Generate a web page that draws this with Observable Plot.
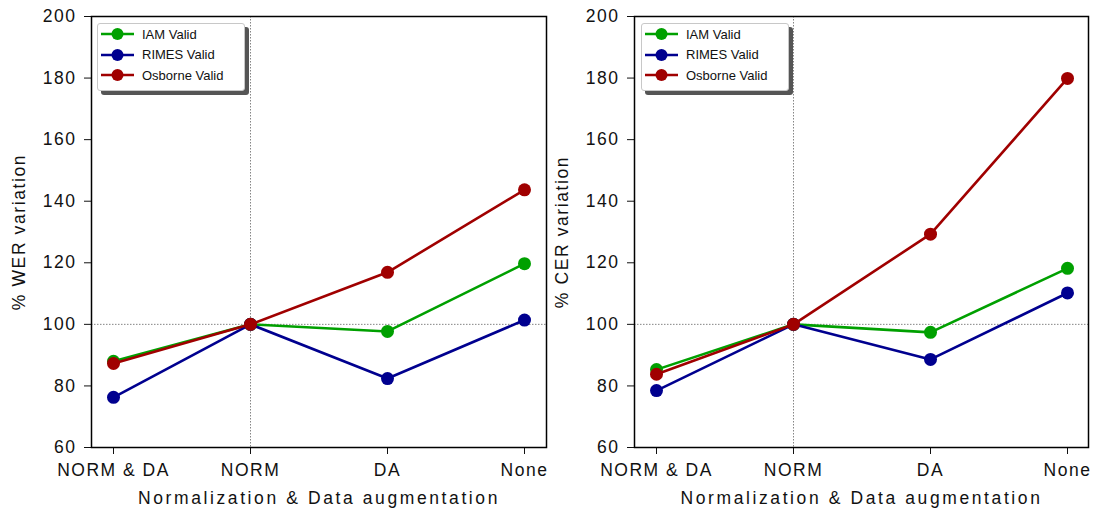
<!DOCTYPE html>
<html>
<head>
<meta charset="utf-8">
<script src="https://cdn.jsdelivr.net/npm/d3@7"></script>
<script src="https://cdn.jsdelivr.net/npm/@observablehq/plot@0.6"></script>
<style>
  html, body { margin: 0; padding: 0; background: #fff; }
  #wrap { position: relative; width: 1094px; height: 509px; display: flex; }
  .legend { position: absolute; width: 146px; height: 66px; background: #fff;
    border: 1px solid #c8c8c8; border-radius: 3px; box-shadow: 4px 4px 0 #555;
    font-family: "Liberation Sans", Arial, sans-serif; font-size: 13px; color: #111; }
  .legend .row { position: absolute; left: 0; height: 20px; display: flex; align-items: center; }
  .legend svg { margin-left: 3px; }
  .legend span { margin-left: 8px; }
  svg [aria-label^="y-axis tick label"] text, svg [aria-label^="x-axis tick label"] text { letter-spacing: 1.5px; }
</style>
</head>
<body>
<div id="wrap"></div>
<script>
const categories = ["NORM & DA", "NORM", "DA", "None"];
const seriesNames = ["IAM Valid", "RIMES Valid", "Osborne Valid"];
const seriesColors = ["#00a000", "#00008f", "#a00000"];
const yTicks = [60, 80, 100, 120, 140, 160, 180, 200];
const xTitle = "Normalization & Data augmentation";

// % WER variation
const werIAM = [88.0, 100, 97.7, 119.7];
const werRIMES = [76.3, 100, 82.4, 101.4];
const werOsborne = [87.3, 100, 116.9, 143.7];

// % CER variation
const cerIAM = [85.3, 100, 97.4, 118.2];
const cerRIMES = [78.5, 100, 88.6, 110.2];
const cerOsborne = [83.8, 100, 129.3, 179.9];

function toRows(arrays) {
  const rows = [];
  arrays.forEach((vals, si) => vals.forEach((v, i) =>
    rows.push({series: seriesNames[si], cat: categories[i], value: v})));
  return rows;
}

function panel(arrays, yLabel, width, mL, mR) {
  const rows = toRows(arrays);
  const marks = [
    Plot.ruleY([100], {stroke: "#666", strokeWidth: 0.8, strokeDasharray: "1.5,1.5"}),
    Plot.ruleX(["NORM"], {stroke: "#666", strokeWidth: 0.8, strokeDasharray: "1.5,1.5"}),
    Plot.axisY({ticks: yTicks, tickSize: 7, tickPadding: 8, label: null, fontSize: 17.5}),
    Plot.axisX({tickSize: 7, tickPadding: 9, label: null, fontSize: 17.5}),
    Plot.text([yLabel], {frameAnchor: "left", textAnchor: "middle", lineAnchor: "middle", dx: -72, rotate: -90, fontSize: 17.5, fill: "#111"}),
    Plot.text([xTitle], {frameAnchor: "bottom", textAnchor: "middle", lineAnchor: "middle", dy: 51, fontSize: 17.5, fill: "#111"})
  ];
  seriesNames.forEach(s => {
    const d = rows.filter(r => r.series === s);
    marks.push(Plot.line(d, {x: "cat", y: "value", stroke: "series", strokeWidth: 2.6}));
    marks.push(Plot.dot(d, {x: "cat", y: "value", fill: "series", r: 6.5, stroke: "none"}));
  });
  marks.push(Plot.frame({stroke: "#000", strokeWidth: 1.5}));
  const svg = Plot.plot({
    width, height: 509,
    marginLeft: mL, marginRight: mR, marginTop: 16, marginBottom: 62,
    style: {fontFamily: "Liberation Sans, Arial, sans-serif", fontSize: "17.5px", color: "#111", background: "#fff"},
    x: {type: "point", domain: categories, padding: 0.15},
    y: {domain: [60, 200]},
    color: {domain: seriesNames, range: seriesColors},
    marks
  });
  svg.querySelectorAll("text").forEach(t => {
    if (t.textContent === xTitle) t.style.letterSpacing = "2.6px";
    else if (t.textContent === yLabel) t.style.letterSpacing = "1.6px";
  });
  return svg;
}

const wrap = document.getElementById("wrap");
wrap.appendChild(panel([werIAM, werRIMES, werOsborne], "% WER variation", 548, 91, 2));
wrap.appendChild(panel([cerIAM, cerRIMES, cerOsborne], "% CER variation", 546, 86, 6));

function legend(left, top) {
  const div = document.createElement("div");
  div.className = "legend";
  div.style.left = left + "px";
  div.style.top = top + "px";
  seriesNames.forEach((name, i) => {
    const row = document.createElement("div");
    row.className = "row";
    row.style.top = (0 + i * 20.5) + "px";
    row.innerHTML = `<svg width="33" height="14"><line x1="0" y1="7" x2="33" y2="7" stroke="${seriesColors[i]}" stroke-width="2.6"/><circle cx="16.5" cy="7" r="6" fill="${seriesColors[i]}"/></svg><span>${name}</span>`;
    div.appendChild(row);
  });
  wrap.appendChild(div);
}
legend(97, 23);
legend(641, 23);
</script>
</body>
</html>
